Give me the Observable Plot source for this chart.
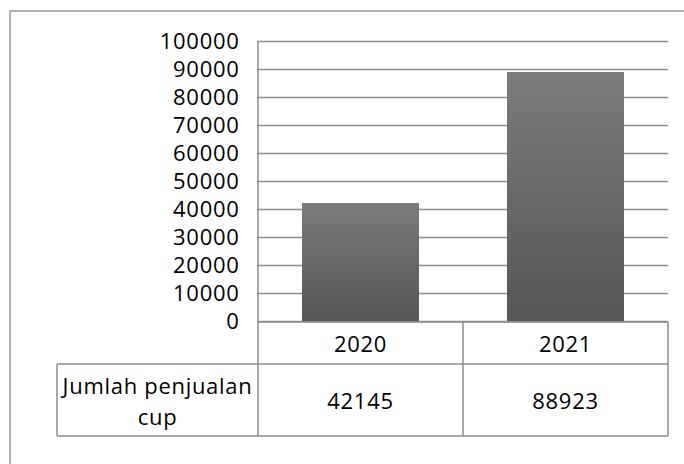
<!DOCTYPE html>
<html>
<head>
<meta charset="utf-8">
<script src="https://cdn.jsdelivr.net/npm/d3@7"></script>
<script src="https://cdn.jsdelivr.net/npm/@observablehq/plot@0.6"></script>
<style>
  html, body { margin: 0; padding: 0; background: #fff; }
  #chart { width: 684px; height: 464px; overflow: hidden; }
  #chart text { letter-spacing: 0.7px; }
</style>
</head>
<body>
<div id="chart"></div>
<script>
// ---- data ----
const categories = ["2020", "2021"];
const values = [42145, 88923];
const seriesLabel = ["Jumlah penjualan", "cup"];
const yTicks = [0, 10000, 20000, 30000, 40000, 50000, 60000, 70000, 80000, 90000, 100000];

const data = categories.map((c, i) => ({category: c, value: values[i]}));

const FONT = "'Open Sans', sans-serif";
const FS = 22;
const LINE = "#8c8c8c";

// custom render mark: gradient defs, outer frame, axis line and data table
function decorations(index, scales, values_, dimensions) {
  const x = scales.x, y = scales.y;
  const g = d3.create("svg:g");
  const defs = g.append("defs");
  const grad = defs.append("linearGradient")
    .attr("id", "barGrad").attr("x1", 0).attr("y1", 0).attr("x2", 0).attr("y2", 1);
  grad.append("stop").attr("offset", "0%").attr("stop-color", "#7b7b7b");
  grad.append("stop").attr("offset", "100%").attr("stop-color", "#565656");

  // outer chart frame
  g.append("rect")
    .attr("x", 10).attr("y", 11)
    .attr("width", dimensions.width + 40).attr("height", dimensions.height + 40)
    .attr("fill", "none").attr("stroke", "#9a9a9a").attr("stroke-width", 1.5);

  const step = x.step();
  const bw = x.bandwidth();
  const left = x(categories[0]) - (step - bw) / 2;
  const right = x(categories[categories.length - 1]) + bw + (step - bw) / 2;
  const y0 = y(0);
  const yTop = y(yTicks[yTicks.length - 1]);
  const hTop = y0 + 1, hBot = y0 + 43, dBot = y0 + 115;
  const labelLeft = 57;

  const lines = g.append("g").attr("stroke", LINE).attr("stroke-width", 1.5).attr("fill", "none");
  lines.append("line").attr("x1", left).attr("x2", left).attr("y1", yTop).attr("y2", dBot);
  lines.append("line").attr("x1", left).attr("x2", right).attr("y1", hTop).attr("y2", hTop);
  lines.append("line").attr("x1", labelLeft).attr("x2", right).attr("y1", hBot).attr("y2", hBot);
  lines.append("line").attr("x1", labelLeft).attr("x2", right).attr("y1", dBot).attr("y2", dBot);
  lines.append("line").attr("x1", labelLeft).attr("x2", labelLeft).attr("y1", hBot).attr("y2", dBot);
  categories.forEach((c) => {
    const xr = x(c) + bw + (step - bw) / 2;
    lines.append("line").attr("x1", xr).attr("x2", xr).attr("y1", hTop).attr("y2", dBot);
  });

  const txt = g.append("g").attr("font-family", FONT).attr("font-size", FS)
    .attr("fill", "#000").attr("text-anchor", "middle").attr("dominant-baseline", "central");
  categories.forEach((c, i) => {
    const cx = x(c) + bw / 2;
    txt.append("text").attr("x", cx).attr("y", (hTop + hBot) / 2).text(c);
    txt.append("text").attr("x", cx).attr("y", y0 + 79).text(String(values[i]));
  });
  const lx = (labelLeft + left) / 2;
  seriesLabel.forEach((s, j) => {
    txt.append("text").attr("x", lx).attr("y", y0 + 64 + j * 31).text(s);
  });
  return g.node();
}

const chart = Plot.plot({
  width: 684,
  height: 464,
  marginLeft: 257,
  marginRight: 16,
  marginTop: 41,
  marginBottom: 143,
  style: {fontFamily: FONT, fontSize: FS + "px", color: "#000", background: "transparent", overflow: "visible"},
  x: {domain: categories, paddingInner: 0.43, paddingOuter: 0.215, axis: null},
  y: {domain: [0, 100000], axis: null},
  marks: [
    decorations,
    Plot.ruleY(yTicks.slice(1), {stroke: LINE, strokeWidth: 1.5, strokeOpacity: 1}),
    Plot.ruleY([0], {stroke: LINE, strokeWidth: 1.5, strokeOpacity: 1}),
    Plot.barY(data, {x: "category", y: "value", fill: "url(#barGrad)"}),
    Plot.axisY(yTicks, {tickSize: 0, tickPadding: 18, tickFormat: d => String(d), fontSize: FS, fill: "#000", label: null})
  ]
});
document.getElementById("chart").appendChild(chart);
</script>
</body>
</html>
